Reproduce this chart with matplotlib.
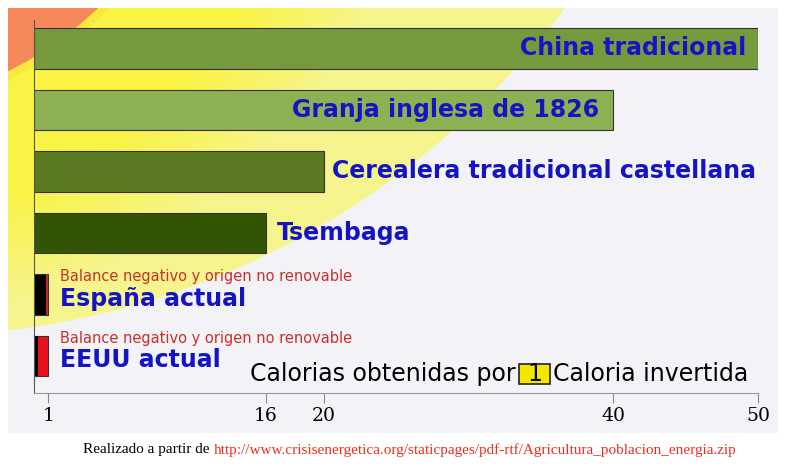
import numpy as np
import matplotlib.pyplot as plt
from matplotlib.patches import Rectangle, Circle
from matplotlib.colors import to_rgb

# datos
nombres = ['China tradicional', 'Granja inglesa de 1826', 'Cerealera tradicional castellana',
           'Tsembaga', 'España actual', 'EEUU actual']
calorias = [50, 40, 20, 16, 1, 1]
colores = ['#76993d', '#8db052', '#5a7a22', '#345405', '#000000', '#e8101a']
ticks = [1, 16, 20, 40, 50]
nota = 'Balance negativo y origen no renovable'

W, H = 791, 467
fig = plt.figure(figsize=(W / 100, H / 100), dpi=100)
fig.patch.set_facecolor('white')

# fondo decorativo (en pixeles)
bg = fig.add_axes([0, 0, 1, 1])
bg.set_xlim(0, W)
bg.set_ylim(H, 0)
bg.axis('off')
panel = Rectangle((8, 8), 770, 425, facecolor='#f3f2f6', edgecolor='none')
bg.add_patch(panel)

def circulo(c, r, color):
    p = Circle(c, r, facecolor=color, edgecolor='none')
    bg.add_patch(p)
    p.set_clip_path(panel)
    return p

pale = circulo((-88, -478), 814, '#f6f48c')
c1, c2 = np.array(to_rgb('#f6f48c')), np.array(to_rgb('#f8f344'))
for r in np.linspace(580, 475, 12):
    t = (580 - r) / (580 - 475)
    p = circulo((-150, -250), r, tuple(c1 + (c2 - c1) * t))
    p.set_clip_path(pale)
circulo((-150, -250), 366, '#f8ea3a')
circulo((-150, -250), 358, '#f5895a')

# grafico
ax = fig.add_axes([34 / W, 1 - 393 / H, 724 / W, 373 / H])
ax.patch.set_alpha(0)
y = list(range(len(nombres)))
ax.barh(y, calorias, height=0.66, color=colores, edgecolor='#333333', linewidth=0.8)
# borde rojo para España y franja negra para EEUU
ax.barh(y[4], 0.15, left=calorias[4] - 0.15, height=0.66, color='#c0282a', linewidth=0)
ax.barh(y[5], 0.25, height=0.66, color='black', linewidth=0)

ax.set_xlim(0, 50)
ax.set_ylim(5.6, -0.46)
ax.set_yticks([])
ax.set_xticks(ticks)
ax.set_xticklabels([str(t) for t in ticks], family='DejaVu Serif', fontsize=13.5)
ax.tick_params(axis='x', direction='out', length=7, color='#888888', pad=3)
for s in ['top', 'right']:
    ax.spines[s].set_visible(False)
ax.spines['left'].set_color('#555555')
ax.spines['bottom'].set_color('#999999')

azul = '#1414c4'
rojo = '#c8302a'
kw = dict(color=azul, fontweight='bold', fontsize=17, va='center')
ax.text(calorias[0] - 0.8, y[0], nombres[0], ha='right', **kw)
ax.text(calorias[1] - 1.0, y[1], nombres[1], ha='right', **kw)
ax.text(calorias[2] + 0.55, y[2], nombres[2], ha='left', **kw)
ax.text(calorias[3] + 0.8, y[3], nombres[3], ha='left', **kw)
for i in (4, 5):
    ax.text(1.8, y[i] - 0.29, nota, color=rojo, fontsize=10.5, va='center', ha='left')
    ax.text(1.8, y[i] + 0.07, nombres[i], ha='left', **kw)

# leyenda del eje
fy = 1 - 374 / H
fig.text(516 / W, fy, 'Calorias obtenidas por', fontsize=17, ha='right', va='center')
bg.add_patch(Rectangle((519, 364), 31, 20, facecolor='#f5e600', edgecolor='#222222', linewidth=1.2))
fig.text(534.5 / W, fy, '1', fontsize=17, ha='center', va='center')
fig.text(553 / W, fy, 'Caloria invertida', fontsize=17, ha='left', va='center')

# pie
py = 1 - 450 / H
fig.text(213 / W, py, 'Realizado a partir de ', family='Liberation Serif', fontsize=11,
         ha='right', va='center')
fig.text(214 / W, py, 'http://www.crisisenergetica.org/staticpages/pdf-rtf/Agricultura_poblacion_energia.zip',
         family='Liberation Serif', fontsize=11, color='#e8301e', ha='left', va='center')

fig.savefig('out.png', dpi=100)
